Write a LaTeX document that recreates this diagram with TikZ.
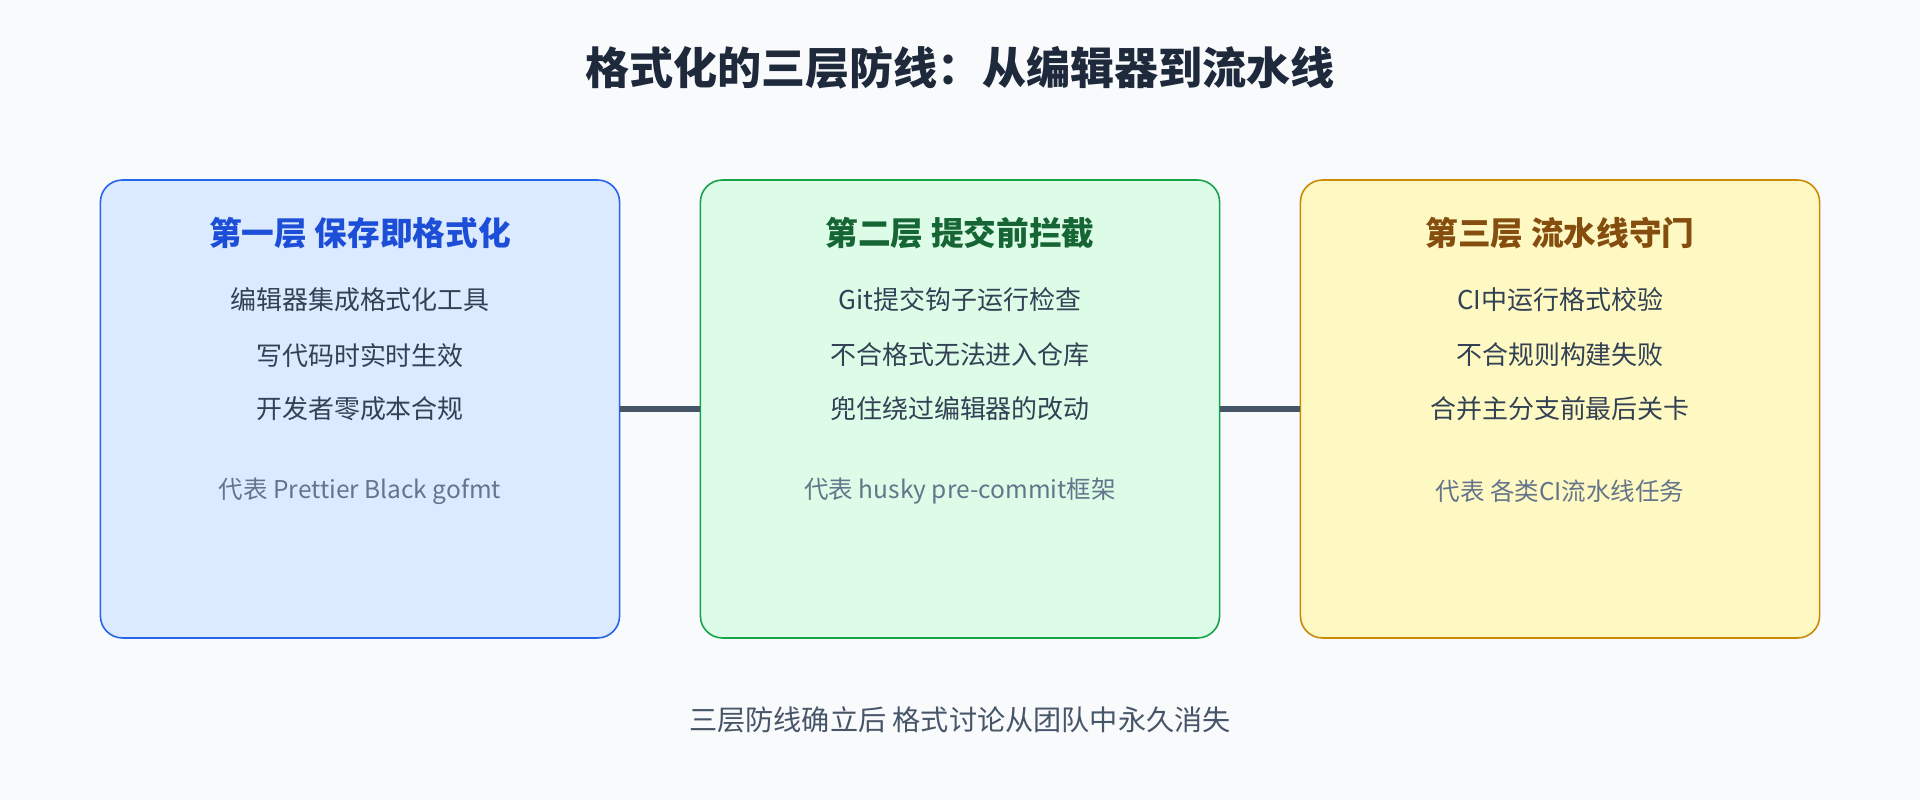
\documentclass[tikz,border=0pt]{standalone}
\usepackage{fontspec}
\setmainfont{Noto Sans CJK SC}
\usetikzlibrary{positioning}
\definecolor{bgcol}{HTML}{F8FAFC}
\definecolor{titlecol}{HTML}{1E293B}
\definecolor{bodycol}{HTML}{334155}
\definecolor{repcol}{HTML}{64748B}
\definecolor{linkcol}{HTML}{475569}
\definecolor{fillA}{HTML}{DBEAFE}\definecolor{drawA}{HTML}{2563EB}\definecolor{headA}{HTML}{1D4ED8}
\definecolor{fillB}{HTML}{DCFCE7}\definecolor{drawB}{HTML}{16A34A}\definecolor{headB}{HTML}{166534}
\definecolor{fillC}{HTML}{FEF9C3}\definecolor{drawC}{HTML}{CA8A04}\definecolor{headC}{HTML}{854D0E}
\tikzset{
  layer/.style={draw, line width=1.3pt, rounded corners=18pt, minimum width=424pt, minimum height=374pt},
  head/.style={font=\fontsize{26.7}{30}\selectfont\bfseries},
  item/.style={font=\fontsize{21.2}{24}\selectfont, text=bodycol},
  rep/.style={font=\fontsize{20}{23}\selectfont, text=repcol},
  link/.style={line width=4.5pt, draw=linkcol}
}
\begin{document}
\begin{tikzpicture}[x=1pt,y=-1pt]
  \fill[bgcol] (0,0) rectangle (1568,653);
  \useasboundingbox (0,0) rectangle (1568,653);
  \node (title) [font=\fontsize{36}{40}\selectfont\bfseries, text=titlecol] at (784,55) {格式化的三层防线：从编辑器到流水线};
  % three layers
  \node (l1) [layer, fill=fillA, draw=drawA] at (294,334) {};
  \node (l2) [layer, fill=fillB, draw=drawB] at (784,334) {};
  \node (l3) [layer, fill=fillC, draw=drawC] at (1274,334) {};
  \draw[link] (l1.east) -- (l2.west);
  \draw[link] (l2.east) -- (l3.west);
  % first layer
  \node (h1) [head, text=headA] at (294,190) {第一层 保存即格式化};
  \node (a1) [item] at (294,245) {编辑器集成格式化工具};
  \node (b1) [item] at (294,290) {写代码时实时生效};
  \node (c1) [item] at (294,334) {开发者零成本合规};
  \node (r1) [rep] at (294,401) {代表 Prettier Black gofmt};
  % second layer
  \node (h2) [head, text=headB] at (784,190) {第二层 提交前拦截};
  \node (a2) [item] at (784,245) {Git提交钩子运行检查};
  \node (b2) [item] at (784,290) {不合格式无法进入仓库};
  \node (c2) [item] at (784,334) {兜住绕过编辑器的改动};
  \node (r2) [rep] at (784,401) {代表 husky pre-commit框架};
  % third layer
  \node (h3) [head, text=headC] at (1274,190) {第三层 流水线守门};
  \node (a3) [item] at (1274,245) {CI中运行格式校验};
  \node (b3) [item] at (1274,290) {不合规则构建失败};
  \node (c3) [item] at (1274,334) {合并主分支前最后关卡};
  \node (r3) [rep] at (1274,401) {代表 各类CI流水线任务};
  \node (foot) [font=\fontsize{23}{26}\selectfont, text=linkcol] at (784,588) {三层防线确立后 格式讨论从团队中永久消失};
\end{tikzpicture}
\end{document}
